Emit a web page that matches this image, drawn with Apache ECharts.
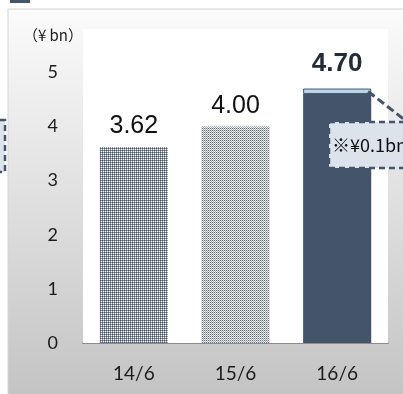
<!DOCTYPE html>
<html>
<head>
<meta charset="utf-8">
<script src="https://cdn.jsdelivr.net/npm/echarts@6/dist/echarts.min.js"></script>
<style>
  html, body { margin: 0; padding: 0; background: #ffffff; }
  #chart { width: 403px; height: 394px; }
</style>
</head>
<body>
<div id="chart"></div>
<script>
// Fiscal periods and totals (¥ bn)
const categories = ['14/6', '15/6', '16/6'];
const totals = [3.62, 4.00, 4.70];
// Portion of each total shown as a highlighted cap (only the latest period)
const addOn = [0, 0, 0.10];
const yTicks = [0, 1, 2, 3, 4, 5];
const unitLabel = '（¥ bn）';
const noteText = '※¥0.1bn';

const dark = '#44546a';

// Small dotted textures for the earlier periods
function makePattern(size, cells) {
  const c = document.createElement('canvas');
  c.width = size; c.height = size;
  const ctx = c.getContext('2d');
  ctx.fillStyle = '#ffffff';
  ctx.fillRect(0, 0, size, size);
  cells.forEach(function (p) {
    ctx.fillStyle = p[2];
    ctx.fillRect(p[0], p[1], 1, 1);
  });
  return { image: c, repeat: 'repeat' };
}
const denseDots = makePattern(2, [[0, 0, '#44546a'], [1, 0, '#8a94a5'], [0, 1, '#8a94a5']]);
const lightDots = makePattern(2, [[0, 0, '#5a677c'], [1, 1, '#a4acba'], [1, 0, '#dfe2e8']]);
const fills = [denseDots, lightDots, dark];

const baseValues = totals.map(function (t, i) { return +(t - addOn[i]).toFixed(2); });

const chart = echarts.init(document.getElementById('chart'), null, { renderer: 'canvas' });

const labelFont = { fontFamily: 'Liberation Sans', fontSize: 25, color: '#111' };

chart.setOption({
  animation: false,
  backgroundColor: '#ffffff',
  grid: {
    left: 83, right: 15, top: 29, bottom: 51,
    show: true, backgroundColor: '#ffffff', borderWidth: 0, z: 1
  },
  xAxis: {
    type: 'category',
    data: categories,
    axisLine: { lineStyle: { color: '#8c8c8c', width: 2 } },
    axisTick: { show: false },
    axisLabel: { fontFamily: 'Lato', fontSize: 19, color: '#1a1a1a', margin: 21 }
  },
  yAxis: {
    type: 'value',
    min: yTicks[0],
    max: 5.8,
    interval: yTicks[1] - yTicks[0],
    name: unitLabel,
    nameLocation: 'end',
    nameGap: -6,
    nameTextStyle: {
      fontFamily: 'Noto Sans CJK JP', fontSize: 15, color: '#1a1a1a',
      align: 'right', verticalAlign: 'middle'
    },
    axisLine: { show: false },
    axisTick: { show: false },
    splitLine: { show: false },
    axisLabel: {
      fontFamily: 'Lato', fontSize: 18, color: '#1a1a1a', margin: 25,
      showMaxLabel: false,
      formatter: function (v) { return yTicks.indexOf(v) >= 0 ? String(v) : ''; }
    }
  },
  series: [
    {
      type: 'bar',
      stack: 'total',
      barWidth: '67%',
      z: 3,
      data: baseValues.map(function (v, i) {
        const item = { value: v, itemStyle: { color: fills[i] } };
        if (addOn[i] === 0) {
          item.label = {
            show: true, position: 'top', distance: 8,
            formatter: totals[i].toFixed(2)
          };
        }
        return item;
      }),
      label: Object.assign({}, labelFont)
    },
    {
      type: 'bar',
      stack: 'total',
      barWidth: '67%',
      z: 3,
      data: addOn.map(function (v, i) {
        if (v === 0) return null;
        return {
          value: v,
          itemStyle: { color: '#bdd7ee', borderColor: dark, borderWidth: 1 },
          label: {
            show: true, position: 'top', distance: 12,
            fontFamily: 'Liberation Sans', fontSize: 26, fontWeight: 'bold',
            color: '#222b38',
            formatter: totals[i].toFixed(2)
          }
        };
      })
    }
  ]
});

// Frame, callouts and leader line drawn around the plot
const last = categories.length - 1;
const capCorner = chart.convertToPixel({ gridIndex: 0 }, [last, totals[last]]);
const halfBar = 34;

chart.setOption({
  graphic: [
    {
      type: 'rect', z: -10, silent: true,
      shape: { x: 8, y: 9, width: 400, height: 390 },
      style: {
        fill: new echarts.graphic.LinearGradient(0, 0, 0, 1, [
          { offset: 0, color: '#fbfbfb' },
          { offset: 1, color: '#c3c3c3' }
        ]),
        stroke: '#d4d4d4', lineWidth: 1
      }
    },
    {
      type: 'rect', z: 10, silent: true,
      shape: { x: 10, y: -2, width: 20, height: 5 },
      style: { fill: dark }
    },
    {
      type: 'rect', z: 10, silent: true,
      shape: { x: -60, y: 120, width: 65, height: 52 },
      style: { fill: '#dde3eb', stroke: dark, lineWidth: 2.5, lineDash: [6, 4] }
    },
    {
      type: 'line', z: 10, silent: true,
      shape: { x1: capCorner[0] + halfBar - 3, y1: capCorner[1] + 3, x2: 410, y2: 124 },
      style: { stroke: dark, lineWidth: 3, lineDash: [8, 4] }
    },
    {
      type: 'rect', z: 11, silent: true,
      shape: { x: 329, y: 122, width: 90, height: 46 },
      style: { fill: '#dde3eb', stroke: dark, lineWidth: 2.5, lineDash: [6, 4] }
    },
    {
      type: 'text', z: 12, silent: true,
      x: 332, y: 145,
      style: {
        text: noteText, fill: '#111',
        font: '18px "Noto Sans CJK JP"',
        verticalAlign: 'middle', align: 'left'
      }
    }
  ]
});
</script>
</body>
</html>
